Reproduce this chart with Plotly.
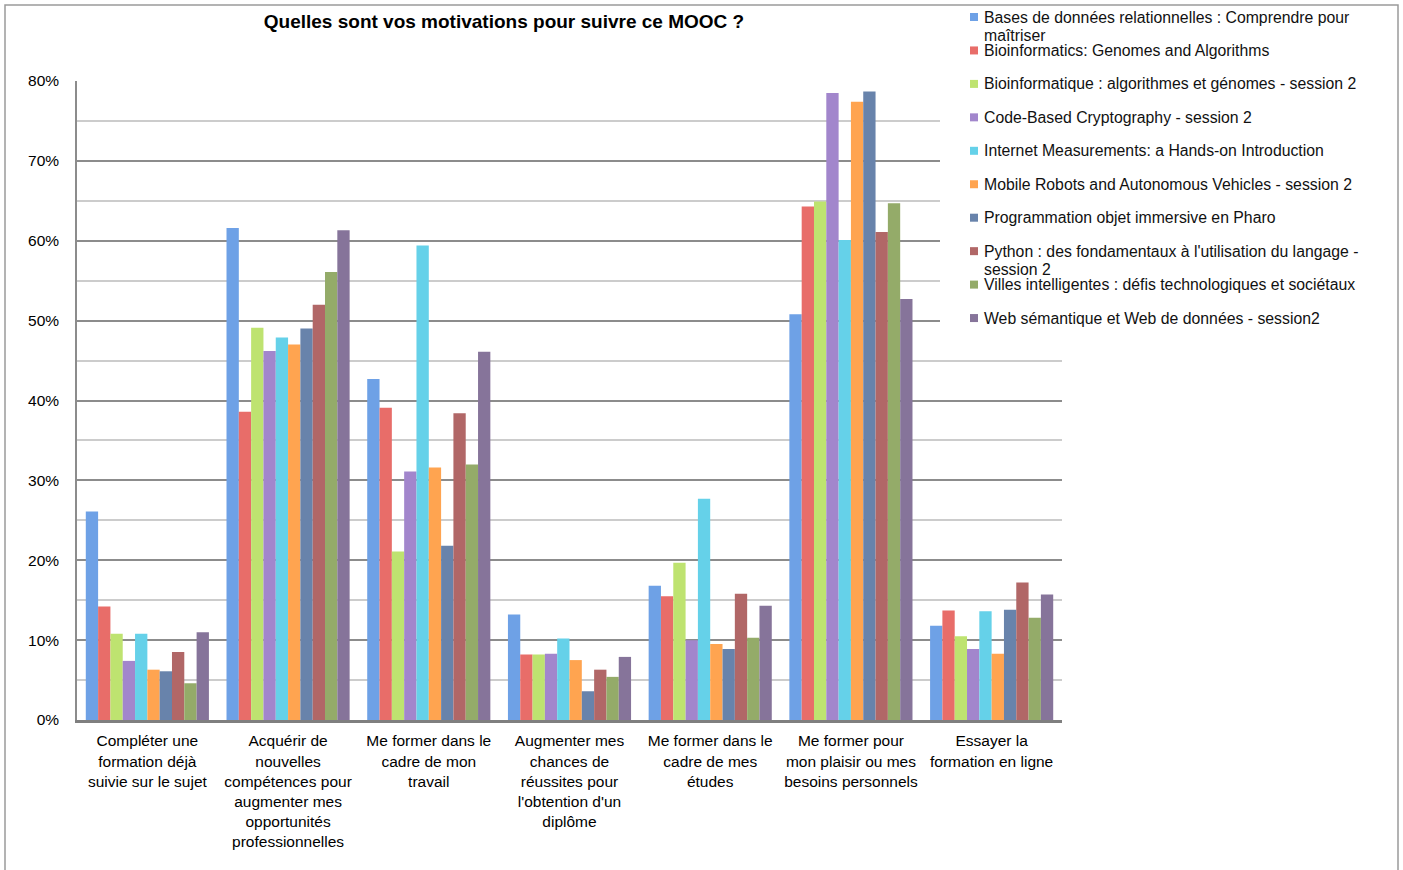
import plotly.graph_objects as go

# ---------------- data ----------------
categories = [
    "Compléter une<br>formation déjà<br>suivie sur le sujet",
    "Acquérir de<br>nouvelles<br>compétences pour<br>augmenter mes<br>opportunités<br>professionnelles",
    "Me former dans le<br>cadre de mon<br>travail",
    "Augmenter mes<br>chances de<br>réussites pour<br>l'obtention d'un<br>diplôme",
    "Me former dans le<br>cadre de mes<br>études",
    "Me former pour<br>mon plaisir ou mes<br>besoins personnels",
    "Essayer la<br>formation en ligne",
]

series_names = [
    "Bases de données relationnelles : Comprendre pour maîtriser",
    "Bioinformatics: Genomes and Algorithms",
    "Bioinformatique : algorithmes et génomes - session 2",
    "Code-Based Cryptography - session 2",
    "Internet Measurements: a Hands-on Introduction",
    "Mobile Robots and Autonomous Vehicles - session 2",
    "Programmation objet immersive en Pharo",
    "Python : des fondamentaux à l'utilisation du langage - session 2",
    "Villes intelligentes : défis technologiques et sociétaux",
    "Web sémantique et Web de données - session2",
]

# legend text as displayed (wrapped lines)
legend_lines = [
    ["Bases de données relationnelles : Comprendre pour", "maîtriser"],
    ["Bioinformatics: Genomes and Algorithms"],
    ["Bioinformatique : algorithmes et génomes - session 2"],
    ["Code-Based Cryptography - session 2"],
    ["Internet Measurements: a Hands-on Introduction"],
    ["Mobile Robots and Autonomous Vehicles - session 2"],
    ["Programmation objet immersive en Pharo"],
    ["Python : des fondamentaux à l'utilisation du langage -", "session 2"],
    ["Villes intelligentes : défis technologiques et sociétaux"],
    ["Web sémantique et Web de données - session2"],
]

bases_donnees = [0.261, 0.616, 0.427, 0.132, 0.168, 0.508, 0.118]
bioinformatics_en = [0.142, 0.386, 0.391, 0.082, 0.155, 0.643, 0.137]
bioinformatique_fr = [0.108, 0.491, 0.211, 0.082, 0.197, 0.649, 0.105]
code_based_crypto = [0.074, 0.462, 0.311, 0.083, 0.100, 0.785, 0.089]
internet_measurements = [0.108, 0.479, 0.594, 0.102, 0.277, 0.601, 0.136]
mobile_robots = [0.063, 0.470, 0.316, 0.075, 0.095, 0.774, 0.083]
pharo = [0.061, 0.490, 0.218, 0.036, 0.089, 0.787, 0.138]
python = [0.085, 0.520, 0.384, 0.063, 0.158, 0.611, 0.172]
villes_intelligentes = [0.046, 0.561, 0.320, 0.054, 0.103, 0.647, 0.128]
web_semantique = [0.110, 0.613, 0.461, 0.079, 0.143, 0.527, 0.157]

series_values = [
    bases_donnees, bioinformatics_en, bioinformatique_fr, code_based_crypto,
    internet_measurements, mobile_robots, pharo, python,
    villes_intelligentes, web_semantique,
]

colors = ["#6EA1E6", "#E86D69", "#BEE370", "#A286CC", "#65D1E9",
          "#FFA450", "#6883AB", "#B16767", "#94AB69", "#86749A"]

y_ticks = [0, 0.1, 0.2, 0.3, 0.4, 0.5, 0.6, 0.7, 0.8]
y_tick_labels = ["0%", "10%", "20%", "30%", "40%", "50%", "60%", "70%", "80%"]

title_text = "Quelles sont vos motivations pour suivre ce MOOC ?"

# ---------------- layout geometry (pixels) ----------------
W, H = 1403, 870
PL, PR, PT, PB = 77, 1062, 81, 720   # plot area edges
pw, ph = PR - PL, PB - PT


def px_x(x):
    return (x - PL) / pw


def px_y(y):
    return (PB - y) / ph


FONT = "Arial, 'Liberation Sans', Helvetica, sans-serif"

fig = go.Figure()
for name, vals, col in zip(series_names, series_values, colors):
    fig.add_trace(go.Bar(
        name=name, x=categories, y=vals,
        marker=dict(color=col, line=dict(width=0)),
        showlegend=False,
    ))

shapes = []
annotations = []

# white box behind legend (covers gridlines, as in the original)
shapes.append(dict(type="rect", xref="paper", yref="paper",
                   x0=px_x(940), x1=px_x(1070), y0=px_y(333), y1=px_y(70),
                   fillcolor="white", line=dict(width=0), layer="above"))

# outer chart frame
shapes.append(dict(type="rect", xref="paper", yref="paper",
                   x0=px_x(5), x1=px_x(1398), y0=px_y(880), y1=px_y(5),
                   fillcolor="rgba(0,0,0,0)", line=dict(color="#9a9a9a", width=1.5),
                   layer="above"))

# manual legend
item_y0, item_step, line_step = 17, 33.45, 18
for i, (lines, col) in enumerate(zip(legend_lines, colors)):
    yc = item_y0 + i * item_step
    shapes.append(dict(type="rect", xref="paper", yref="paper",
                       x0=px_x(970), x1=px_x(978), y0=px_y(yc + 4), y1=px_y(yc - 4),
                       fillcolor=col, line=dict(width=0), layer="above"))
    for j, ln in enumerate(lines):
        annotations.append(dict(text=ln, xref="paper", yref="paper",
                                x=px_x(982), y=px_y(yc + j * line_step),
                                xanchor="left", yanchor="middle", showarrow=False,
                                font=dict(family=FONT, size=15.8, color="#111111")))

fig.update_layout(
    width=W, height=H,
    margin=dict(l=PL, r=W - PR, t=PT, b=H - PB, pad=0),
    paper_bgcolor="white", plot_bgcolor="white",
    barmode="group", bargap=0.125, bargroupgap=0,
    title=dict(text="<b>" + title_text + "</b>", x=504 / W, xanchor="center",
               xref="container", yref="container", y=1 - 21 / H, yanchor="middle",
               font=dict(family=FONT, size=19, color="#000000")),
    font=dict(family=FONT, size=15, color="#000000"),
    shapes=shapes, annotations=annotations,
    xaxis=dict(
        type="category", showgrid=False, zeroline=False,
        showline=True, linecolor="#7f7f7f", linewidth=2.5,
        ticks="", tickfont=dict(family=FONT, size=15.5, color="#000000"),
        ticklabelstandoff=5, automargin=False, tickangle=0,
    ),
    yaxis=dict(
        range=[0, 0.8], tickvals=y_ticks, ticktext=y_tick_labels,
        showgrid=True, gridcolor="#8c8c8c", gridwidth=1.5,
        minor=dict(dtick=0.05, tick0=0, showgrid=True, gridcolor="#cccccc", gridwidth=1.5),
        showline=True, linecolor="#8c8c8c", linewidth=1.5,
        zeroline=False, ticks="", ticklabelstandoff=13,
        tickfont=dict(family=FONT, size=15.5, color="#000000"),
        automargin=False,
    ),
)

fig.write_html("out.html", config={"displayModeBar": False},
               post_script="document.body.style.margin='0';document.body.style.overflow='hidden';")
